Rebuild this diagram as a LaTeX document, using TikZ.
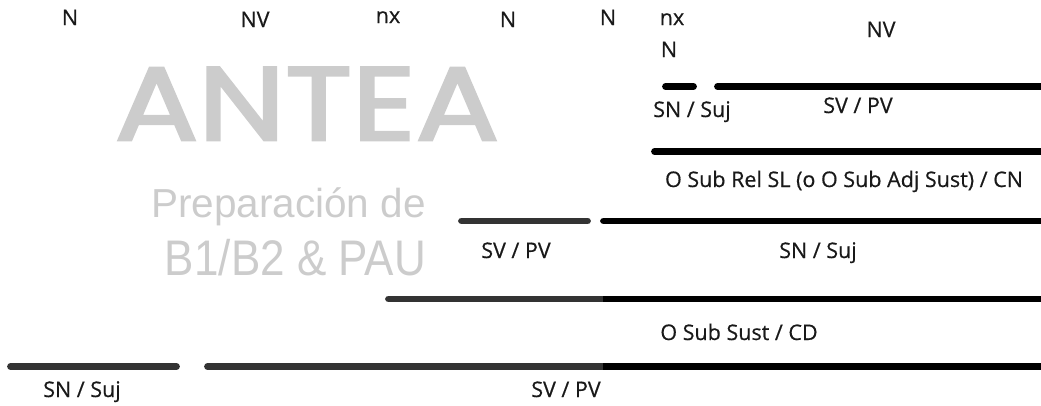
\documentclass[tikz,border=0pt]{standalone}
\usepackage{fontspec}
\setmainfont{Open Sans}[BoldFont={Open Sans}, BoldFeatures={FakeBold=0.5}]
\newfontfamily\wmbold{Poppins}[FakeBold=2.5]
\newfontfamily\wmlight{Liberation Sans}
\begin{document}
\begin{tikzpicture}[x=1pt,y=-1pt,
  lbl/.style={font=\bfseries\fontsize{21.5}{24}\selectfont, text=black!90, inner sep=0pt, anchor=base},
  bar/.style={line width=6.8pt, line cap=round},
  dk/.style={bar, draw=black!80},
  bk/.style={bar, draw=black},
  wm/.style={text=black!20, inner sep=0pt}]
\useasboundingbox (0,0) rectangle (1041,405);
% watermark
\node[wm, font=\wmbold\fontsize{104}{104}\selectfont, anchor=base, xscale=1.19] (antea) at (307,140) {ANTEA};
\node[wm, font=\wmlight\fontsize{40.5}{44}\selectfont, anchor=base east] (prep) at (426,217) {Preparación de};
\node[wm, font=\wmlight\fontsize{50}{54}\selectfont, anchor=base east, xscale=0.88] (b1) at (426,275) {B1/B2 \& PAU};
% top labels
\node[lbl] (n1) at (70,25) {N};
\node[lbl] (nv1) at (255,27) {NV};
\node[lbl] (nx1) at (388,23) {nx};
\node[lbl] (n2) at (508,27) {N};
\node[lbl] (n3) at (608,25) {N};
\node[lbl] (nx2) at (672,25) {nx};
\node[lbl] (n4) at (669,57) {N};
\node[lbl] (nv2) at (881,37) {NV};
% line 1
\coordinate (a1) at (665.5,86.5); \coordinate (a2) at (693.5,86.5);
\coordinate (a3) at (717.5,86.5); \coordinate (a4) at (1050,86.5);
\draw[bk] (a1) -- (a2);
\draw[bk] (a3) -- (a4);
\node[lbl] (snsuj1) at (692,117) {SN / Suj};
\node[lbl] (svpv1) at (858,113) {SV / PV};
% line 2
\coordinate (b1s) at (654.5,151.5); \coordinate (b1e) at (1050,151.5);
\draw[bk] (b1s) -- (b1e);
\node[lbl] (rel) at (844,187) {O Sub Rel SL (o O Sub Adj Sust) / CN};
% line 3
\coordinate (c1) at (461.5,221); \coordinate (c2) at (587.5,221);
\coordinate (c3) at (603.5,221); \coordinate (c4) at (1050,221);
\draw[dk] (c1) -- (c2);
\draw[bk] (c3) -- (c4);
\node[lbl] (svpv2) at (516,258) {SV / PV};
\node[lbl] (snsuj2) at (818,258) {SN / Suj};
% line 4
\coordinate (d1) at (388.5,299); \coordinate (d2) at (603,299); \coordinate (d3) at (1050,299);
\draw[dk] (d1) -- (d2);
\draw[bk, line cap=butt] (d2) -- (d3);
\node[lbl] (cd) at (739,340) {O Sub Sust / CD};
% line 5
\coordinate (e1) at (10.5,366.5); \coordinate (e2) at (176.5,366.5);
\coordinate (e3) at (207.5,366.5); \coordinate (e4) at (603,366.5); \coordinate (e5) at (1050,366.5);
\draw[dk] (e1) -- (e2);
\draw[dk] (e3) -- (e4);
\draw[bk, line cap=butt] (e4) -- (e5);
\node[lbl] (snsuj3) at (82,397) {SN / Suj};
\node[lbl] (svpv3) at (566,397) {SV / PV};
\end{tikzpicture}
\end{document}
